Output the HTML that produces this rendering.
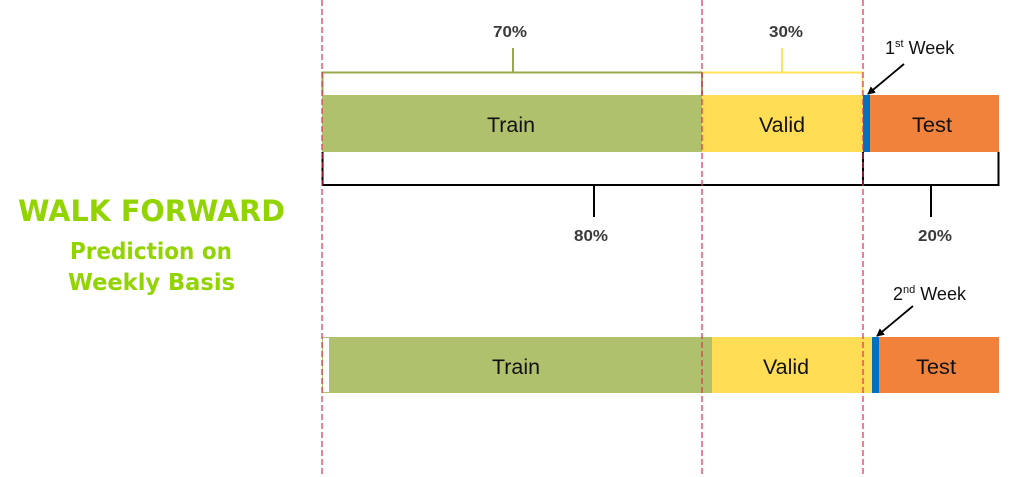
<!DOCTYPE html>
<html><head><meta charset="utf-8"><style>
html,body{margin:0;padding:0;background:#fff;width:1020px;height:477px;overflow:hidden}
svg{display:block}
.l{font-family:"Liberation Sans",Arial,sans-serif}
.g{font-family:"DejaVu Sans",sans-serif;font-weight:bold}
</style></head><body>
<svg width="1020" height="477" viewBox="0 0 1020 477" xmlns="http://www.w3.org/2000/svg">
<defs><marker id="ah" markerWidth="8" markerHeight="8" refX="7" refY="4" orient="auto" markerUnits="userSpaceOnUse"><path d="M0,0 L8,4 L0,8 z" fill="#000"/></marker></defs>
<!-- left text -->
<g fill="#92D400" class="g">
<text x="18" y="221" font-size="29" textLength="267" lengthAdjust="spacingAndGlyphs">WALK FORWARD</text>
<text x="70" y="259" font-size="23" textLength="162" lengthAdjust="spacingAndGlyphs">Prediction on</text>
<text x="68" y="290" font-size="23" textLength="167" lengthAdjust="spacingAndGlyphs">Weekly Basis</text>
</g>
<!-- bar 1 -->
<rect x="322" y="95" width="380" height="57" fill="#AFC16C"/>
<rect x="702" y="95" width="161" height="57" fill="#FFDE55"/>
<rect x="863" y="95" width="7" height="57" fill="#0070C0"/>
<rect x="870" y="95" width="129" height="57" fill="#F0823C"/>
<g class="l" font-size="21" text-anchor="middle" fill="#111">
<text x="511" y="132" textLength="48" lengthAdjust="spacingAndGlyphs">Train</text>
<text x="782" y="132" textLength="46" lengthAdjust="spacingAndGlyphs">Valid</text>
<text x="932" y="132" textLength="40" lengthAdjust="spacingAndGlyphs">Test</text>
</g>
<!-- top brackets -->
<path d="M322.5,95 V72.5 H702 V95 M513,72 V48" fill="none" stroke="#99A84C" stroke-width="2"/>
<path d="M702,72.5 H862.5 V95 M782,72 V48" fill="none" stroke="#FFE45A" stroke-width="2"/>
<!-- bottom brackets -->
<path d="M322.5,152 V185 H863 V152 M594,185 V217" fill="none" stroke="#000" stroke-width="2"/>
<path d="M863,185 H998.5 V152 M931,185 V217" fill="none" stroke="#000" stroke-width="2"/>
<g class="l" font-size="16" font-weight="bold" text-anchor="middle" fill="#3a3a3a">
<text x="510" y="37" textLength="34" lengthAdjust="spacingAndGlyphs">70%</text>
<text x="786" y="37" textLength="34" lengthAdjust="spacingAndGlyphs">30%</text>
<text x="591" y="241" textLength="34" lengthAdjust="spacingAndGlyphs">80%</text>
<text x="935" y="241" textLength="34" lengthAdjust="spacingAndGlyphs">20%</text>
</g>
<!-- bar 2 -->
<rect x="322.5" y="337.5" width="7" height="55" fill="#fff" stroke="#AFC16C" stroke-width="1"/>
<rect x="330" y="337" width="382" height="56" fill="#AFC16C"/>
<rect x="712" y="337" width="160" height="56" fill="#FFDE55"/>
<rect x="872" y="337" width="7" height="56" fill="#0070C0"/>
<rect x="879" y="337" width="120" height="56" fill="#F0823C"/>
<g class="l" font-size="21" text-anchor="middle" fill="#111">
<text x="516" y="374" textLength="48" lengthAdjust="spacingAndGlyphs">Train</text>
<text x="786" y="374" textLength="46" lengthAdjust="spacingAndGlyphs">Valid</text>
<text x="936" y="374" textLength="40" lengthAdjust="spacingAndGlyphs">Test</text>
</g>
<!-- dashed lines -->
<g stroke="#E52A55" stroke-width="1.2" stroke-dasharray="6,3">
<line x1="322" y1="0" x2="322" y2="477"/><line x1="702" y1="0" x2="702" y2="477"/><line x1="863" y1="0" x2="863" y2="477"/>
</g>
<!-- arrows -->
<line x1="904" y1="64" x2="868" y2="94" stroke="#000" stroke-width="1.8" marker-end="url(#ah)"/>
<line x1="913" y1="306" x2="877" y2="336" stroke="#000" stroke-width="1.8" marker-end="url(#ah)"/>
<g class="l" font-size="18" fill="#111">
<text x="885" y="54">1<tspan font-size="11" dy="-7">st</tspan><tspan dy="7"> Week</tspan></text>
<text x="893" y="300">2<tspan font-size="11" dy="-7">nd</tspan><tspan dy="7"> Week</tspan></text>
</g>
</svg>
</body></html>
